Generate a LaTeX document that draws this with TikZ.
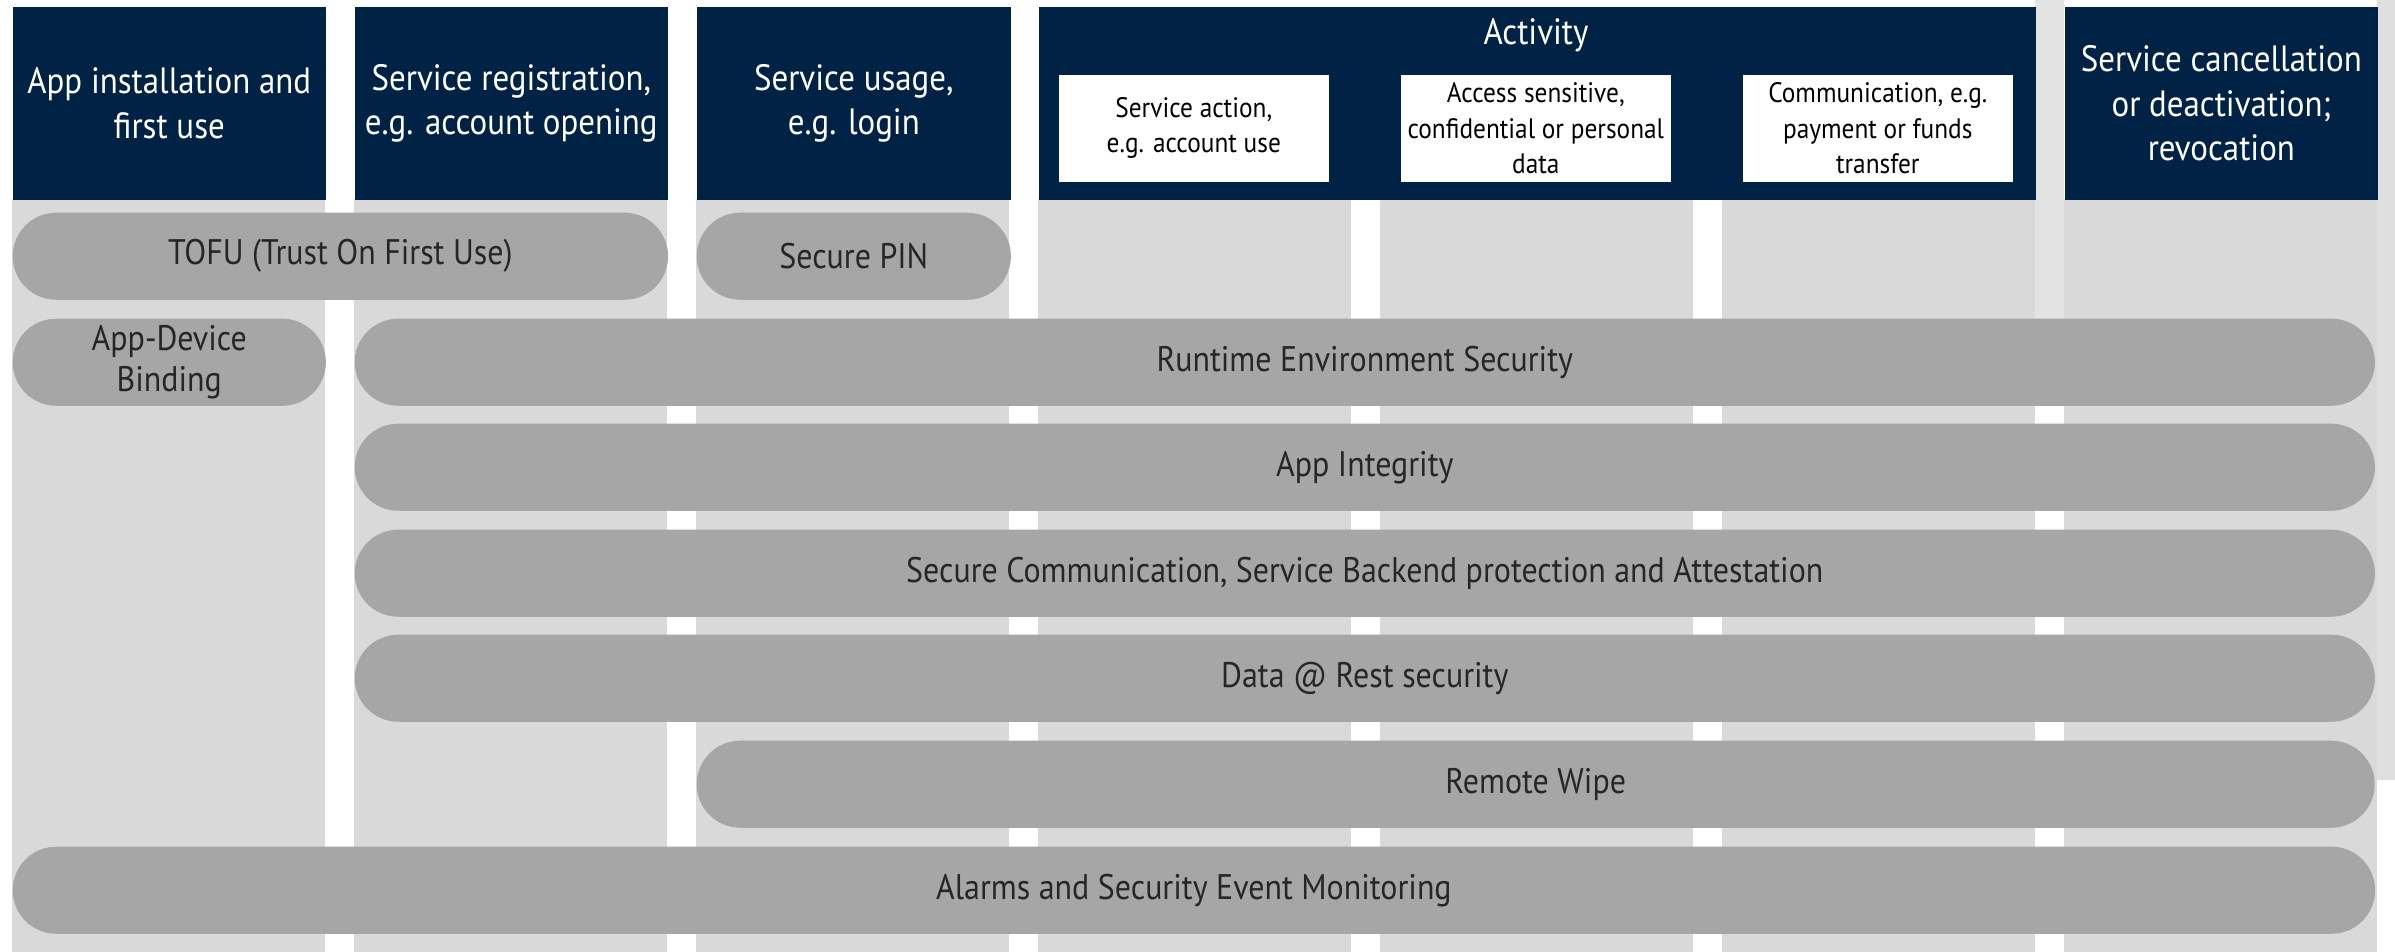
\documentclass[tikz,border=0pt]{standalone}
\usepackage{fontspec}
\setmainfont[FakeStretch=0.9]{PT Sans}
\usetikzlibrary{positioning}
\definecolor{navy}{RGB}{0,35,69}
\definecolor{colgrey}{RGB}{217,217,217}
\definecolor{pillgrey}{RGB}{166,166,166}
\tikzset{
	head/.style={fill=navy,text=white,align=center,inner sep=0pt,anchor=north west,minimum height=1.93cm,font=\fontsize{10.4}{12.6}\selectfont},
	subbox/.style={fill=white,text=black,align=center,inner sep=0pt,anchor=north west,minimum width=2.7cm,minimum height=1.07cm,font=\fontsize{8}{10}\selectfont},
	pill/.style={fill=pillgrey,text=black!85,rounded corners=0.435cm,align=center,anchor=north west,minimum height=0.87cm,inner sep=0pt,font=\fontsize{10.1}{11.7}\selectfont},
}

\begin{document}
\begin{tikzpicture}[x=0.01cm,y=-0.01cm]
		\useasboundingbox (0,0) rectangle (2395,952);
		\fill[gray!22] (2035,0) rectangle (2064,320);
		\fill[gray!25] (2377,0) rectangle (2395,780);
		\foreach \i in {0,...,6}
		\fill[colgrey] (12+342*\i,199) rectangle +(313,753);
		
		\node[head,minimum width=3.13cm] (install) at (12,6) {App installation and\\first use};
		\node[head,minimum width=3.13cm] (regist) at (354,6) {Service registration,\\e.g. account opening};
		\node[head,minimum width=3.14cm] (usage) at (696,6) {Service usage,\\e.g. login};
		\node[head,minimum width=9.97cm] (activity) at (1038,6) {};
		\node[text=white,font=\fontsize{10.4}{12.6}\selectfont] (acttitle) at (1536,35) {Activity};
		\node[head,minimum width=3.13cm] (cancel) at (2064,6) {Service cancellation\\or deactivation;\\revocation};
		
		\foreach \i/\n/\t in {0/action/{Service action,\\e.g. account use},
			1/access/{Access sensitive,\\confidential or personal\\data},
			2/transfer/{Communication, e.g.\\payment or funds\\transfer}}
		\node[subbox] (\n) at (1058+342*\i,74) {\t};
		
		\node[pill,minimum width=6.55cm] (tofu) at (12,212) {TOFU (Trust On First Use)};
		\node[pill,minimum width=3.14cm] (pin) at (696,212) {Secure PIN};
		\node[pill,minimum width=3.13cm] (binding) at (12,318) {App-Device\\Binding};
		\node[pill,minimum width=20.19cm] (runtime) at (354,318) {Runtime Environment Security};
		\node[pill,minimum width=20.19cm] (integrity) at (354,423) {App Integrity};
		\node[pill,minimum width=20.19cm] (seccomm) at (354,529) {Secure Communication, Service Backend protection and Attestation};
		\node[pill,minimum width=20.19cm] (rest) at (354,634) {Data @ Rest security};
		\node[pill,minimum width=16.77cm] (wipe) at (696,740) {Remote Wipe};
		\node[pill,minimum width=23.61cm] (alarms) at (12,846) {Alarms and Security Event Monitoring};
	\end{tikzpicture}
\end{document}
